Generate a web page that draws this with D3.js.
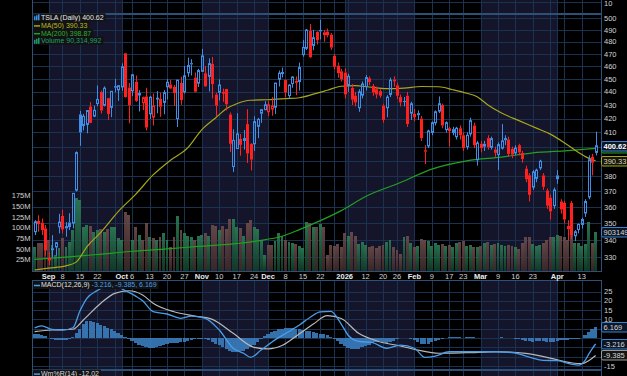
<!DOCTYPE html>
<html>
<head>
<meta charset="utf-8">
<title>TSLA Daily</title>
<script src="https://cdn.jsdelivr.net/npm/d3@7"></script>
<style>
  body { margin: 0; background: #000; overflow: hidden; }
  svg { display: block; font-family: "Liberation Sans", Arial, sans-serif; }
</style>
</head>
<body>
<svg id="chart" width="627" height="376"></svg>
<script>
// market holidays inside the range
let holidays = ["2025-09-01", "2025-11-27", "2025-12-25", "2026-01-01", "2026-01-19", "2026-02-16", "2026-04-03"];

let opens = [345, 351.5, 350.5, 347, 328.5, 335.2, 336, 348, 354.6, 348.4,
  350.6, 350.2, 370.9, 423.1, 415, 415.75, 428.9, 421.8, 431.1, 439.9,
  429.8, 435.2, 428.3, 444.35, 441.5, 443.8, 470.5, 443.3, 440.75, 447.8,
  437.6, 431.8, 436.5, 423.5, 421.1, 434.75, 434.7, 432, 443.9, 445.6,
  443.9, 420, 446.8, 439.98, 454.8, 462.5, 451, 446.75, 455.99, 454.46,
  452, 461.96, 437.9, 439.6, 439.4, 442.15, 423, 386.4, 398.7, 405.4,
  406, 416, 402, 402, 414.4, 423.95, 426.6, 425, 427, 428.4,
  449.8, 454.2, 449.1, 437.2, 446.4, 448.5, 448, 469.4, 474.6, 489.3,
  477, 488.4, 489.9, 488, 488.6, 486, 468.5, 460.5, 456, 455,
  445, 443, 437, 428, 437.5, 444, 450.5, 444.5, 442, 440.5,
  429.5, 428, 438, 449.5, 445, 436, 433, 437, 424, 423.5,
  424, 420, 397.5, 400.5, 410, 417, 425.5, 430, 412, 413,
  410, 407, 413, 408, 400, 409, 415, 391, 402, 402,
  406, 399.5, 398, 394.5, 399, 406, 405, 398.5, 395.7, 401,
  395.7, 385, 380.6, 372.8, 378.5, 385.5, 380.5, 370.7, 366, 361,
  380.5, 363.6, 362.7, 348.5, 362.7, 342.6, 346.3, 349.4, 356.4, 366.5,
  393, 396];

let highs = [352, 355, 353, 349, 333, 343, 338.9, 355.9, 358.4, 350.8,
  356.3, 369, 396.7, 425.7, 423.4, 426.1, 432.2, 429.5, 444.9, 440.97,
  444.2, 435.35, 440.5, 450, 445, 462.3, 470.75, 446.8, 453.55, 452.7,
  441.3, 436.35, 443.1, 436.9, 438.7, 440.5, 439.35, 441.3, 449.8, 449.4,
  445.3, 449.4, 451.7, 460.2, 467, 465.7, 455.06, 458, 474.07, 460.2,
  466.3, 467.45, 439.4, 449.7, 442.5, 442.3, 424.5, 412.2, 423.96, 408.9,
  411.8, 426.9, 402.4, 421.7, 420.5, 426.9, 432.9, 433.4, 436, 446.9,
  456.6, 458.9, 449.5, 445.9, 452, 451.9, 463, 481.6, 490.8, 495,
  490, 488.8, 498.8, 489.9, 491.1, 487.4, 470, 463, 458, 458.3,
  454, 446, 440, 442, 448, 453, 452, 446, 444, 442,
  431, 437.5, 451, 452, 447, 438, 436, 440, 432.5, 427,
  426, 422, 401, 412, 418, 426, 436.5, 431, 418, 414,
  414, 414, 415, 410, 410, 420.6, 417, 404, 404, 404,
  408, 407, 400, 403, 416, 408, 407, 400, 401, 402,
  397, 387, 382, 384, 385, 391, 382, 372, 368, 372.5,
  384, 365, 364, 352, 364, 346, 350, 353.5, 365, 394,
  395, 410.5];

let lows = [343, 345, 343, 331, 325.6, 330, 331, 344, 344, 342,
  346, 347, 370, 400.6, 411.4, 409.4, 416.6, 421, 429.1, 423.7,
  429, 419.1, 421, 439.5, 433.1, 440.75, 435.6, 416.6, 436.7, 432.45,
  425.2, 426.2, 411.45, 419.7, 415, 423.9, 421.3, 423.2, 434.2, 442.05,
  429.4, 413.9, 430.2, 438.7, 451.6, 452.65, 439.6, 443.7, 455.4, 443.8,
  440.3, 435.1, 421.9, 433.4, 432.4, 426.1, 396.3, 382.8, 398.7, 393.7,
  398, 388.8, 383.8, 397, 405.95, 416.9, 426.2, 421.8, 422.1, 423.3,
  444.1, 451.1, 435.9, 434.7, 443.1, 437.4, 441, 467.7, 473.2, 466.6,
  473, 477.8, 482, 480, 483.8, 473.4, 457.5, 451, 448, 435,
  440, 430, 429, 425, 435, 441, 445, 437, 435, 435.5,
  417, 421, 436, 444, 434.5, 429, 429, 414, 419, 418,
  419, 404, 388, 399, 408, 415, 424, 413, 410, 400,
  408, 405, 405, 397, 398, 407, 399, 387, 396, 397,
  398, 398, 393, 384, 398, 401, 393, 392, 394, 394,
  389, 376, 363.6, 371, 376, 384, 371, 359, 352.4, 359,
  375, 356, 350, 340, 341, 339.4, 344, 347, 354, 365,
  380.5, 394];

let closes = [351, 349.6, 346, 333.9, 329.4, 334.1, 338.5, 350.8, 346.4, 347,
  347.8, 368.8, 395.9, 410, 421.6, 425.9, 416.9, 426.1, 434.2, 425.9,
  442.8, 423.4, 440.4, 443.2, 444.7, 459.5, 436, 429.8, 453.25, 433.1,
  438.7, 435.5, 413.5, 435.9, 429.2, 435.15, 428.75, 439.3, 447.4, 442.6,
  438.97, 448.98, 433.7, 452.4, 460.55, 461.5, 440.1, 456.56, 468.37, 444.26,
  462.07, 445.91, 429.52, 445.23, 439.62, 430.6, 401.99, 404.35, 408.92, 401.25,
  403.99, 395.23, 391.09, 417.78, 419.4, 426.58, 430.17, 430.14, 429.24, 446.74,
  454.53, 455, 439.58, 445.17, 451.45, 446.89, 458.96, 475.31, 489.88, 467.26,
  483.37, 481.2, 488.73, 485.56, 485.4, 475.19, 459.64, 454.43, 449.72, 438,
  452, 434, 432, 440, 446, 451, 447.5, 439.5, 438, 437,
  419, 436, 449, 448, 437, 432, 432.5, 416, 431, 421,
  422.5, 406, 396.5, 411, 417, 425, 431, 415, 417, 411,
  412, 413, 408, 399, 408, 418.5, 401, 402.5, 399, 400,
  399.5, 405.6, 395.7, 401.4, 404, 404.5, 395, 394.5, 399, 396,
  391.5, 378, 367.8, 382.8, 384, 390, 373, 361, 357.4, 371,
  378, 358.6, 352.4, 346.5, 343, 345, 349.4, 352.4, 363.6, 391,
  389, 400.62];

// volume in millions of shares
let volumes = [55.6, 65, 65, 72.7, 71.2, 59.6, 36.2, 51.6, 75, 54.1,
  67.3, 94.6, 168.6, 164.8, 102.4, 106.3, 104, 90.7, 94.6, 96.1,
  90.7, 97.7, 102.4, 100.9, 75, 71.2, 137.4, 129.6, 71.2, 102.4,
  82.9, 71.2, 111.8, 79, 75, 71.2, 79, 88.4, 71.2, 55.6,
  79, 127.3, 94.6, 87.2, 80.6, 79, 71.2, 80.6, 82.9, 87.2,
  80.6, 106.3, 104, 94.6, 104, 96.1, 119.5, 119.5, 102.4, 98.5,
  80.6, 111.8, 118, 102.4, 96.1, 71.2, 36.2, 59.6, 59.6, 69.6,
  87.2, 80.6, 71.2, 67.3, 63.4, 61.8, 57.1, 51.6, 113.9, 110,
  102.4, 102.4, 108.7, 102.4, 36.2, 59.6, 57.1, 61.8, 54.1, 88.4,
  80.6, 89.9, 80.6, 61.8, 67.3, 59.6, 55.6, 57.1, 51.6, 57.1,
  59.6, 67.3, 71.2, 54.1, 47.9, 38.6, 79, 80.6, 65, 55.6,
  57.1, 72.7, 71.2, 69.6, 57.1, 63.4, 59.6, 61.8, 57.1, 59.6,
  54.1, 63.4, 67.3, 69.6, 57.1, 59.6, 54.1, 55.6, 57.1, 65,
  67.3, 59.6, 61.8, 63.4, 59.6, 57.1, 59.6, 57.1, 54.1, 49.4,
  63.4, 79, 77.4, 61.8, 57.1, 59.6, 65, 71.2, 77.4, 77.4,
  82.9, 80.6, 77.4, 71.2, 82.9, 65, 63.4, 57.1, 61.8, 113.9,
  63.4, 90.314992];

let ma50Dates = ["2025-08-26", "2025-09-02", "2025-09-09", "2025-09-12", "2025-09-17", "2025-09-23", "2025-09-30",
  "2025-10-07", "2025-10-14", "2025-10-21", "2025-10-28", "2025-11-03", "2025-11-07", "2025-11-12", "2025-11-17",
  "2025-11-21", "2025-12-01", "2025-12-08", "2025-12-12", "2025-12-18", "2025-12-24", "2025-12-31", "2026-01-07",
  "2026-01-13", "2026-01-21", "2026-01-28", "2026-02-04", "2026-02-11", "2026-02-18", "2026-02-24", "2026-02-27",
  "2026-03-04", "2026-03-10", "2026-03-17", "2026-03-24", "2026-03-30", "2026-04-06", "2026-04-10", "2026-04-15", "2026-04-17"];
let ma50Vals = [322.8, 323.8, 325.1, 327.4, 336.1, 344.6, 357.3,
  368.2, 380.8, 390.7, 399.3, 412, 420.6, 427.2, 431,
  433.6, 434, 434.8, 435.5, 438.2, 441.2, 444.3, 444.7,
  443.7, 442.4, 442.8, 444.1, 443.9, 441.6, 438.9, 436.3,
  430.3, 424.1, 418.5, 413.1, 408.8, 402.8, 396.2, 392.1, 390.33];

let ma200Dates = ["2025-08-26", "2025-09-09", "2025-09-22", "2025-10-06", "2025-10-20", "2025-10-31", "2025-11-14",
  "2025-11-25", "2025-12-05", "2025-12-12", "2025-12-22", "2025-12-31", "2026-01-12", "2026-01-27", "2026-02-09",
  "2026-02-24", "2026-03-10", "2026-03-23", "2026-04-07", "2026-04-17"];
let ma200Vals = [328.8, 330.1, 331.6, 333.5, 334.9, 336.3, 337.8,
  339.6, 342.3, 346.3, 351.7, 357.9, 366.8, 375.8, 384.7,
  390.2, 392.8, 395.7, 397.3, 398.87];

let macdDates = ["2025-08-26", "2025-08-28", "2025-09-03", "2025-09-08", "2025-09-11", "2025-09-15", "2025-09-17",
  "2025-09-22", "2025-09-24", "2025-09-29", "2025-10-02", "2025-10-07", "2025-10-09", "2025-10-14", "2025-10-20",
  "2025-10-24", "2025-10-29", "2025-11-04", "2025-11-10", "2025-11-14", "2025-11-19", "2025-11-21", "2025-11-26",
  "2025-12-03", "2025-12-09", "2025-12-12", "2025-12-17", "2025-12-22", "2025-12-26", "2025-12-31", "2026-01-05",
  "2026-01-08", "2026-01-14", "2026-01-21", "2026-01-27", "2026-02-02", "2026-02-05", "2026-02-10", "2026-02-17",
  "2026-02-25", "2026-03-05", "2026-03-13", "2026-03-20", "2026-03-26", "2026-04-01", "2026-04-08", "2026-04-10",
  "2026-04-13", "2026-04-14", "2026-04-15", "2026-04-16", "2026-04-17"];
let macdVals = [5.4, 6.5, 4.6, 4.3, 5.5, 14.5, 21.3,
  25.5, 27.5, 28.2, 25.5, 22.5, 20, 14.2, 12.9,
  10.6, 11.8, 10.6, 4.3, -5.5, -8.2, -10.4, -6.5,
  -1, 3.5, 7, 11, 14, 14.3, 7.5, 1.5,
  -1.8, -2.5, -5.5, -3.8, -5.5, -10.4, -9.7, -7.4,
  -7.4, -7.4, -7.8, -10.3, -12, -12.2, -14, -14.6,
  -14, -12, -8.8, -5.8, -3.216];

let signalDates = ["2025-08-26", "2025-09-03", "2025-09-11", "2025-09-16", "2025-09-23", "2025-09-29", "2025-10-03",
  "2025-10-09", "2025-10-14", "2025-10-22", "2025-10-30", "2025-11-06", "2025-11-14", "2025-11-24", "2025-12-01",
  "2025-12-05", "2025-12-12", "2025-12-18", "2025-12-24", "2025-12-31", "2026-01-08", "2026-01-16", "2026-01-27",
  "2026-02-03", "2026-02-11", "2026-02-24", "2026-03-09", "2026-03-19", "2026-03-30", "2026-04-08", "2026-04-13",
  "2026-04-15", "2026-04-17"];
let signalVals = [3.4, 4.3, 4.7, 9.7, 18.7, 24, 25.4,
  23.1, 18.7, 14.1, 11.8, 10, 2.5, -5, -5.8,
  -4, 2.3, 7.5, 12, 10.5, 2.5, -2, -4.3,
  -6.5, -8.2, -7.9, -7.4, -8.3, -10.8, -13.3, -13.8,
  -12.2, -9.385];

// MACD histogram, one value per trading day
let histVals = [2, 2.2, 1.8, 1, 0.2, -0.5, -0.9, -1.1,
  -1.2, -1, -0.6, 0.4, 2.5, 5, 7.5, 9, 9.2, 8.8,
  8, 7.2, 6.4, 5.6, 4.8, 3.8, 2.8, 1.6, 0.4, -0.8,
  -1.8, -2.8, -3.6, -4.3, -4.8, -5.2, -5.3, -5, -4.4, -3.8,
  -3.2, -2.8, -2.6, -2.5, -2.3, -2, -1.5, -1, -0.6, -0.4,
  -0.5, -0.8, -1.3, -2, -3, -4, -5, -6, -6.8, -7.3,
  -7.4, -7.2, -6.8, -6, -5, -3.6, -2, -0.5, 1,
  2.2, 3.2, 4, 4.6, 5, 5.2, 5.3, 5.2, 5, 4.7,
  4.4, 4, 3.6, 3.2, 2.8, 2.4, 2, 1.4, 0.6, -0.6, -1.8, -3,
  -4.2, -5.2, -5.8, -6, -5.7, -5.1, -4.4, -3.6, -2.8, -2.2, -1.8,
  -2.2, -2.6, -2.3, -1.4, -0.6, -0.1, 0.2, 0, -0.5,
  -1.3, -2.2, -3, -3.3, -3, -2.4, -1.8, -1.1, -0.4, 0.2,
  0.5, 0.6, 0.5, 0.4, 0.2, 0.3, 0.4, 0.3, 0.1,
  0, 0.2, 0.2, 0.1, 0, 0.1, 0.3, 0.2, 0, -0.2,
  -0.4, -0.7, -1, -1.4, -1.8, -2, -1.8, -1.5, -1.6, -1.9,
  -2.1, -2, -1.6, -1.3, -1.1, -1, -0.8, -0.6, -0.6,
  -0.2, 1.4, 3.4, 5, 6.169];

let priceTicks = [330, 340, 350, 360, 370, 380, 390, 400, 410, 420, 430, 440, 450, 460, 470, 480, 490, 500];
let volumeTicks = [25, 50, 75, 100, 125, 150, 175];
let macdTicks = [-15, -10, -5, 0, 5, 10, 15, 20, 25];

let monthTickDates = ["2025-09-02", "2025-10-01", "2025-11-03", "2025-12-01", "2026-01-02", "2026-02-02", "2026-03-02", "2026-04-01"];
let monthTickLabels = ["Sep", "Oct", "Nov", "Dec", "2026", "Feb", "Mar", "Apr"];
let weekTickDates = ["2025-09-08", "2025-09-15", "2025-09-22", "2025-10-06", "2025-10-13", "2025-10-20", "2025-10-27",
  "2025-11-10", "2025-11-17", "2025-11-24", "2025-12-08", "2025-12-15", "2025-12-22", "2026-01-12", "2026-01-20",
  "2026-01-26", "2026-02-09", "2026-02-17", "2026-02-23", "2026-03-09", "2026-03-16", "2026-03-23", "2026-04-13"];
let weekTickLabels = ["8", "15", "22", "6", "13", "20", "27", "10", "17", "24", "8", "15", "22", "12", "20",
  "26", "9", "17", "23", "9", "16", "23", "13"];

let wrLast = -12.02;

// ---- layout ----
let left = 32.5, right = 601.5;
let blue = "#3f8fe8", red = "#ff2020";
let ma50Color = "#a6a61c", ma200Color = "#22a022";
let gridColor = "#1a3150", borderColor = "#2d5078", shadeColor = "#14142b";
let textColor = "#d2d2d2";

let fmt = d3.timeFormat("%Y-%m-%d");
let parse = d3.timeParse("%Y-%m-%d");

let days = d3.timeDay.range(new Date(2025, 7, 26), new Date(2026, 3, 18))
  .filter(d => d.getDay() !== 0 && d.getDay() !== 6 && !holidays.includes(fmt(d)))
  .map(fmt);

let x = d3.scalePoint().domain(days).range([34.6, 595.6]);
let step = x.step();
let cx = d => Math.round(x(d)) + 0.5;

let yPrice = d3.scaleLog().domain([330, 500]).range([257.3, 18.3]);
let yVol = d3.scaleLinear().domain([0, 175]).range([270.5, 195.6]);
let yMacd = d3.scaleLinear().domain([-15, 25]).range([365.9, 291.5]);

let svg = d3.select("#chart");
let defs = svg.append("defs");

let addGrad = (id, top, bottom) => {
  let g = defs.append("linearGradient").attr("id", id)
    .attr("x1", 0).attr("y1", 0).attr("x2", 0).attr("y2", 1);
  g.append("stop").attr("offset", "0%").attr("stop-color", top);
  g.append("stop").attr("offset", "100%").attr("stop-color", bottom);
};
addGrad("volUp", "#2c7b55", "#113b27");
addGrad("volDown", "#6c4b4b", "#3a2828");

let panels = [
  {id: "top", y0: -40, y1: 13.5, hLines: [2]},
  {id: "price", y0: 14.5, y1: 271, hLines: priceTicks.map(yPrice)},
  {id: "macd", y0: 280.5, y1: 369, hLines: macdTicks.map(yMacd)},
  {id: "wr", y0: 370.5, y1: 440, hLines: []}
];

panels.forEach(p => {
  defs.append("clipPath").attr("id", "clip-" + p.id)
    .append("rect").attr("x", left).attr("y", p.y0).attr("width", right - left).attr("height", p.y1 - p.y0);
});

// month boundaries and week starts
let monthStarts = days.filter((d, i) => i > 0 && d.slice(0, 7) !== days[i - 1].slice(0, 7));
let weekStarts = days.filter((d, i) => i > 0 &&
  +d3.timeMonday.floor(parse(d)) !== +d3.timeMonday.floor(parse(days[i - 1])));
let gridDates = Array.from(new Set(weekStarts.concat(monthStarts)));

let spans = [{m: 8, x0: left, x1: x(monthStarts[0])}].concat(monthStarts.map((d, i) => ({
  m: +d.slice(5, 7),
  x0: x(d),
  x1: i < monthStarts.length - 1 ? x(monthStarts[i + 1]) : right
})));

panels.forEach(p => {
  let g = svg.append("g").attr("clip-path", "url(#clip-" + p.id + ")").attr("shape-rendering", "crispEdges");
  g.selectAll("rect.shade").data(spans.filter(s => s.m % 2 === 1)).join("rect")
    .attr("class", "shade")
    .attr("x", s => s.x0).attr("width", s => s.x1 - s.x0)
    .attr("y", p.y0).attr("height", p.y1 - p.y0)
    .attr("fill", shadeColor);
  g.selectAll("line.v").data(gridDates).join("line")
    .attr("class", "v")
    .attr("x1", d => Math.round(x(d)) + 0.5).attr("x2", d => Math.round(x(d)) + 0.5)
    .attr("y1", p.y0).attr("y2", p.y1)
    .attr("stroke", gridColor);
  g.selectAll("line.h").data(p.hLines).join("line")
    .attr("class", "h")
    .attr("x1", left).attr("x2", right)
    .attr("y1", y => Math.round(y) + 0.5).attr("y2", y => Math.round(y) + 0.5)
    .attr("stroke", gridColor);
  svg.append("rect").attr("x", left).attr("y", p.y0).attr("width", right - left).attr("height", p.y1 - p.y0)
    .attr("fill", "none").attr("stroke", borderColor).attr("shape-rendering", "crispEdges");
});

// ---- price panel ----
let priceG = svg.append("g").attr("clip-path", "url(#clip-price)");
let upDay = i => closes[i] >= (i === 0 ? opens[0] : closes[i - 1]);

priceG.append("g").attr("shape-rendering", "crispEdges")
  .selectAll("rect").data(days).join("rect")
  .attr("x", d => x(d) - step / 2 + 0.3)
  .attr("width", step - 0.6)
  .attr("y", (d, i) => yVol(volumes[i]))
  .attr("height", (d, i) => yVol(0) - yVol(volumes[i]))
  .attr("fill", (d, i) => upDay(i) ? "url(#volUp)" : "url(#volDown)")
  .attr("opacity", 0.92);

let maLine = d3.line().x(d => x(d[0])).y(d => yPrice(d[1])).curve(d3.curveMonotoneX);
priceG.append("path").datum(d3.zip(ma200Dates, ma200Vals))
  .attr("d", maLine).attr("fill", "none").attr("stroke", ma200Color).attr("stroke-width", 1.2);
priceG.append("path").datum(d3.zip(ma50Dates, ma50Vals))
  .attr("d", maLine).attr("fill", "none").attr("stroke", ma50Color).attr("stroke-width", 1.2);

priceG.append("g").selectAll("g").data(days).join("g")
  .each(function(d, i) {
    let g = d3.select(this);
    let o = opens[i], c = closes[i];
    let col = upDay(i) ? blue : red;
    let xc = cx(d);
    let top = yPrice(Math.max(o, c)), bot = yPrice(Math.min(o, c));
    g.append("line").attr("x1", xc).attr("x2", xc).attr("y1", yPrice(highs[i])).attr("y2", top).attr("stroke", col);
    g.append("line").attr("x1", xc).attr("x2", xc).attr("y1", bot).attr("y2", yPrice(lows[i])).attr("stroke", col);
    if (c < o) {
      g.append("rect").attr("x", xc - 1.5).attr("width", 3)
        .attr("y", top).attr("height", Math.max(bot - top, 1)).attr("fill", col);
    } else {
      g.append("rect").attr("x", xc - 1).attr("width", 2)
        .attr("y", top).attr("height", Math.max(bot - top, 0.8))
        .attr("fill", "none").attr("stroke", col).attr("stroke-width", 1);
    }
  });

// legend blocks with a dark backing
let legendRow = (y, icon, parts) => {
  let g = svg.append("g");
  let bg = g.append("rect").attr("fill", "#121212").attr("opacity", 0.92);
  let t = g.append("text").attr("x", 41).attr("y", y).attr("dy", "0.35em").attr("font-size", "7px");
  parts.forEach(p => t.append("tspan").text(p[0]).attr("fill", p[1]));
  let w = t.node().getComputedTextLength();
  bg.attr("x", 33).attr("y", y - 4).attr("width", w + 10).attr("height", 8);
  icon(g, y);
};

let lineIcon = color => (g, y) => g.append("line").attr("x1", 34).attr("x2", 40)
  .attr("y1", y + 0.5).attr("y2", y + 0.5).attr("stroke", color).attr("stroke-width", 1.5);
let barIcon = color => (g, y) => [0, 2, 4].forEach((dx, k) => g.append("rect")
  .attr("x", 34 + dx).attr("width", 1.5).attr("y", y - 1 - k).attr("height", 4 + k).attr("fill", color));

let last = days.length - 1;
let ma50Last = ma50Vals[ma50Vals.length - 1], ma200Last = ma200Vals[ma200Vals.length - 1];
legendRow(17.3, barIcon(blue), [["TSLA (Daily) " + closes[last].toFixed(2), "#e8e8e8"]]);
legendRow(25.4, lineIcon(ma50Color), [["MA(50) " + ma50Last.toFixed(2), "#b9b925"]]);
legendRow(33.2, lineIcon(ma200Color), [["MA(200) " + ma200Last.toFixed(2), "#2cb02c"]]);
legendRow(40.8, barIcon("#1f9a68"), [["Volume " + d3.format(",")(Math.round(volumes[last] * 1e6)), "#21a06c"]]);

// value boxes on the right edge; axis labels they cover are not drawn
let priceBoxes = [yPrice(closes[last]), yPrice(ma50Last), yVol(volumes[last])];
let macdLast = macdVals[macdVals.length - 1], sigLast = signalVals[signalVals.length - 1], histLast = histVals[last];
let macdBoxes = [yMacd(histLast), yMacd(macdLast), yMacd(sigLast)];

let axisText = (y, s) => svg.append("text").attr("x", 604).attr("y", y).attr("dy", "0.35em")
  .attr("font-size", "7.5px").attr("fill", textColor).text(s);
let free = (y, boxes) => boxes.every(b => Math.abs(b - y) >= 7);
priceTicks.filter(v => free(yPrice(v), priceBoxes)).forEach(v => axisText(yPrice(v), v));
axisText(3.5, "10");
macdTicks.filter(v => free(yMacd(v), macdBoxes)).forEach(v => axisText(yMacd(v), v));

let boxRect = (y, stroke, fill) => svg.append("rect")
  .attr("x", 601.5).attr("y", Math.round(y) - 4.5).attr("width", 30).attr("height", 9.5)
  .attr("rx", 1.5).attr("fill", fill).attr("stroke", stroke);
let valueBox = (y, s, stroke, fill, color, bold) => {
  boxRect(y, stroke, fill);
  svg.append("text").attr("x", 603.5).attr("y", Math.round(y) + 0.3).attr("dy", "0.35em")
    .attr("font-size", "7.5px").attr("font-weight", bold ? "bold" : "normal").attr("fill", color).text(s);
};
boxRect(yPrice(ma200Last), ma200Color, "#07140a");
valueBox(priceBoxes[0], closes[last].toFixed(2), "#3d80d0", "#0b1626", "#ffffff", true);
valueBox(priceBoxes[1], ma50Last.toFixed(2), ma50Color, "#161606", "#d6d6c0");
valueBox(priceBoxes[2], String(Math.round(volumes[last] * 1e6)), "#3d80d0", "#0b1626", "#d6d6d6");

// left volume axis
volumeTicks.forEach(v => svg.append("text").attr("x", 30.5).attr("y", yVol(v)).attr("dy", "0.35em")
  .attr("text-anchor", "end").attr("font-size", "7.5px").attr("fill", textColor).text(v + "M"));

// date labels
monthTickDates.forEach((d, i) => svg.append("text").attr("x", x(d)).attr("y", 276).attr("dy", "0.35em")
  .attr("text-anchor", "middle").attr("font-size", "7.5px").attr("font-weight", "bold").attr("fill", "#ececec")
  .text(monthTickLabels[i]));
weekTickDates.forEach((d, i) => svg.append("text").attr("x", x(d)).attr("y", 276).attr("dy", "0.35em")
  .attr("text-anchor", "middle").attr("font-size", "7.5px").attr("fill", textColor)
  .text(weekTickLabels[i]));

// ---- MACD panel ----
let macdG = svg.append("g").attr("clip-path", "url(#clip-macd)");
macdG.append("g").attr("shape-rendering", "crispEdges")
  .selectAll("rect").data(days).join("rect")
  .attr("x", d => x(d) - step / 2)
  .attr("width", step - 0.2)
  .attr("y", (d, i) => Math.min(yMacd(histVals[i]), yMacd(0)))
  .attr("height", (d, i) => Math.abs(yMacd(histVals[i]) - yMacd(0)))
  .attr("fill", "#3a7dbc").attr("opacity", 0.9);

let macdLine = d3.line().x(d => x(d[0])).y(d => yMacd(d[1])).curve(d3.curveMonotoneX);
macdG.append("path").datum(d3.zip(signalDates, signalVals))
  .attr("d", macdLine).attr("fill", "none").attr("stroke", "#b8b8b8").attr("stroke-width", 1.2);
macdG.append("path").datum(d3.zip(macdDates, macdVals))
  .attr("d", macdLine).attr("fill", "none").attr("stroke", "#4a9de8").attr("stroke-width", 1.3);

legendRow(285, lineIcon("#4a9de8"), [["MACD(12,26,9) ", "#e0e0e0"],
  [macdLast.toFixed(3) + ", " + sigLast.toFixed(3) + ", " + histLast.toFixed(3), "#4a9de8"]]);

valueBox(macdBoxes[0], histLast.toFixed(3), "#3d80d0", "#0b1626", "#d6d6d6");
valueBox(macdBoxes[1], macdLast.toFixed(3), "#3d80d0", "#0b1626", "#d6d6d6");
valueBox(macdBoxes[2], sigLast.toFixed(3), "#9a9a9a", "#141414", "#d6d6d6");

// ---- Williams %R panel (top edge only) ----
legendRow(373.6, lineIcon("#4a9de8"), [["Wm%R(14) " + wrLast.toFixed(2), "#d8d8d8"]]);
</script>
</body>
</html>
